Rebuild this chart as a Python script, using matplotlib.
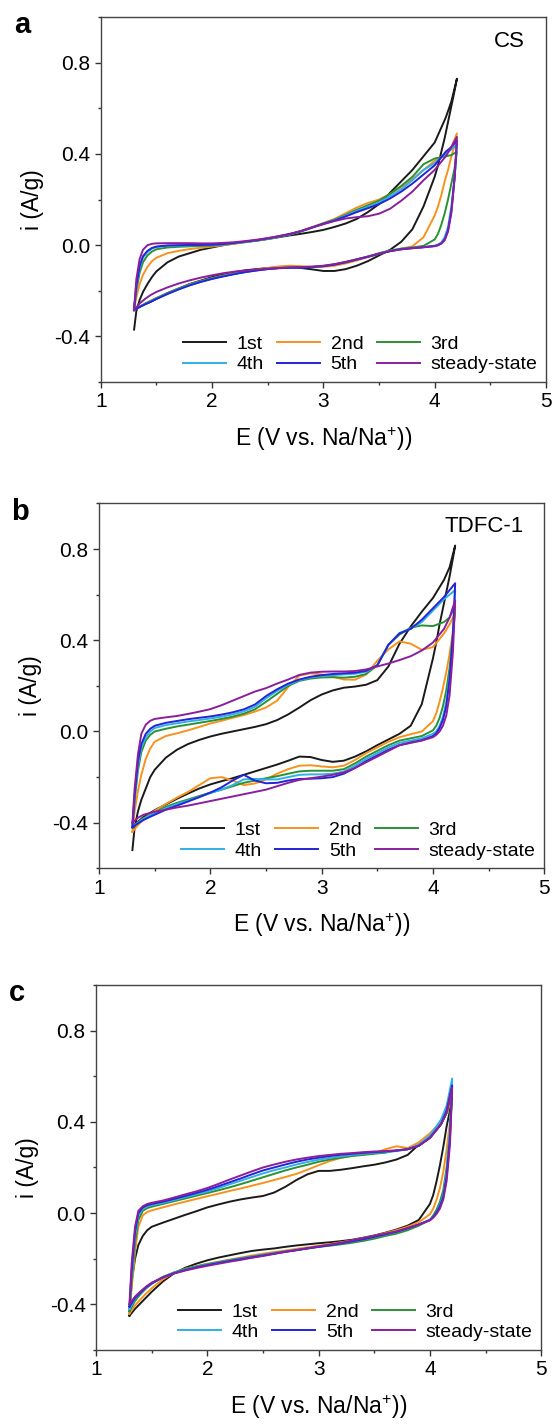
import matplotlib.pyplot as plt
from matplotlib.ticker import MultipleLocator, FormatStrFormatter

plt.rcParams['font.family'] = ['Liberation Sans', 'DejaVu Sans']
plt.rcParams['mathtext.fontset'] = 'custom'
plt.rcParams['mathtext.rm'] = 'Liberation Sans'
plt.rcParams['axes.unicode_minus'] = False

# potential (V) for anodic sweep (up) and cathodic sweep (down)
E_up = [1.30, 1.32, 1.35, 1.38, 1.42, 1.46, 1.50,
        1.6, 1.7, 1.8, 1.9, 2.0,
        2.1, 2.2, 2.3, 2.4, 2.5,
        2.6, 2.7, 2.8, 2.9, 3.0,
        3.1, 3.2, 3.3, 3.4, 3.5,
        3.6, 3.7, 3.8, 3.9, 4.0,
        4.1, 4.15, 4.2]
E_dn = [4.2, 4.18, 4.15, 4.12, 4.09, 4.06, 4.03, 4.0,
        3.9, 3.8, 3.7, 3.6, 3.5,
        3.4, 3.3, 3.2, 3.1, 3.0,
        2.9, 2.8, 2.7, 2.6, 2.5,
        2.4, 2.3, 2.2, 2.1, 2.0,
        1.9, 1.8, 1.7, 1.6, 1.5,
        1.45, 1.4, 1.35, 1.3]

labels = ['1st', '2nd', '3rd', '4th', '5th', 'steady-state']
colors = ['#1a1a1a', '#f7921e', '#2a9134', '#2fb0e8', '#2424d8', '#8a1f9e']

# ---- a: CS ----
a_up_1 = [-0.37, -0.29, -0.24, -0.205, -0.17, -0.14, -0.115,
          -0.075, -0.05, -0.035, -0.02, -0.01,
          0.0, 0.008, 0.015, 0.02, 0.027,
          0.035, 0.043, 0.05, 0.058, 0.067,
          0.08, 0.095, 0.115, 0.145, 0.18,
          0.23, 0.28, 0.33, 0.39, 0.45,
          0.56, 0.63, 0.73]
a_up_2 = [-0.28, -0.23, -0.17, -0.13, -0.095, -0.07, -0.055,
          -0.035, -0.025, -0.017, -0.011, -0.006,
          0.0, 0.006, 0.013, 0.02, 0.028,
          0.037, 0.047, 0.062, 0.08, 0.097,
          0.115, 0.14, 0.165, 0.185, 0.2,
          0.225, 0.255, 0.29, 0.33, 0.37,
          0.40, 0.43, 0.49]
a_up_3 = [-0.28, -0.2, -0.12, -0.075, -0.045, -0.028, -0.018,
          -0.01, -0.007, -0.005, -0.003, -0.002,
          0.003, 0.008, 0.014, 0.02, 0.028,
          0.037, 0.047, 0.06, 0.077, 0.095,
          0.112, 0.133, 0.155, 0.175, 0.195,
          0.225, 0.26, 0.3, 0.355, 0.38,
          0.39, 0.395, 0.41]
a_up_4 = [-0.28, -0.19, -0.1, -0.055, -0.03, -0.015, -0.008,
          -0.003, -0.002, -0.001, 0.0, 0.0,
          0.004, 0.009, 0.015, 0.021, 0.029,
          0.038, 0.048, 0.061, 0.077, 0.094,
          0.11, 0.13, 0.15, 0.168, 0.187,
          0.215, 0.245, 0.285, 0.33, 0.36,
          0.40, 0.42, 0.44]
a_up_5 = [-0.28, -0.18, -0.09, -0.048, -0.025, -0.012, -0.006,
          -0.001, 0.0, 0.001, 0.001, 0.002,
          0.005, 0.01, 0.016, 0.022, 0.03,
          0.039, 0.049, 0.062, 0.078, 0.094,
          0.108, 0.126, 0.145, 0.162, 0.18,
          0.205, 0.235, 0.27, 0.31, 0.35,
          0.41, 0.43, 0.46]
a_up_s = [-0.28, -0.15, -0.06, -0.02, 0.0, 0.006, 0.008,
          0.009, 0.009, 0.009, 0.008, 0.008,
          0.01, 0.013, 0.018, 0.024, 0.031,
          0.04, 0.05, 0.062, 0.078, 0.092,
          0.106, 0.117, 0.123, 0.127, 0.138,
          0.16, 0.195, 0.235, 0.285, 0.33,
          0.39, 0.43, 0.475]

a_dn_1 = [0.73, 0.68, 0.61, 0.54, 0.47, 0.41, 0.35, 0.30,
          0.17, 0.07, 0.015, -0.02, -0.045,
          -0.07, -0.09, -0.105, -0.113, -0.113,
          -0.106, -0.1, -0.097, -0.097, -0.1,
          -0.105, -0.11, -0.118, -0.128, -0.14,
          -0.155, -0.17, -0.19, -0.21, -0.235,
          -0.248, -0.258, -0.27, -0.28]
a_dn_2 = [0.49, 0.44, 0.39, 0.33, 0.28, 0.22, 0.17, 0.13,
          0.035, -0.005, -0.015, -0.025, -0.038,
          -0.052, -0.067, -0.08, -0.09, -0.095,
          -0.095, -0.092, -0.09, -0.093, -0.1,
          -0.108, -0.115, -0.123, -0.133, -0.145,
          -0.158, -0.172, -0.19, -0.21, -0.232,
          -0.244, -0.256, -0.27, -0.285]
a_dn_3 = [0.41, 0.34, 0.27, 0.2, 0.14, 0.09, 0.05, 0.025,
          -0.003, -0.01, -0.015, -0.023, -0.035,
          -0.05, -0.063, -0.075, -0.085, -0.092,
          -0.095, -0.096, -0.097, -0.1, -0.104,
          -0.11, -0.117, -0.125, -0.135, -0.146,
          -0.158, -0.172, -0.19, -0.21, -0.232,
          -0.244, -0.256, -0.27, -0.285]
a_dn_4 = [0.44, 0.3, 0.17, 0.08, 0.035, 0.012, 0.003, -0.002,
          -0.008, -0.012, -0.017, -0.025, -0.037,
          -0.05, -0.062, -0.074, -0.084, -0.091,
          -0.095, -0.097, -0.098, -0.1, -0.104,
          -0.11, -0.117, -0.126, -0.136, -0.147,
          -0.16, -0.175, -0.193, -0.213, -0.235,
          -0.247, -0.258, -0.27, -0.285]
a_dn_5 = [0.46, 0.3, 0.15, 0.065, 0.025, 0.008, 0.0, -0.004,
          -0.009, -0.013, -0.018, -0.026, -0.038,
          -0.051, -0.063, -0.075, -0.085, -0.092,
          -0.096, -0.098, -0.099, -0.101, -0.105,
          -0.111, -0.118, -0.127, -0.137, -0.148,
          -0.161, -0.176, -0.194, -0.214, -0.236,
          -0.248, -0.259, -0.271, -0.285]
a_dn_s = [0.475, 0.3, 0.14, 0.06, 0.022, 0.007, 0.0, -0.004,
          -0.009, -0.013, -0.018, -0.026, -0.037,
          -0.05, -0.062, -0.073, -0.083, -0.09,
          -0.094, -0.096, -0.098, -0.1, -0.103,
          -0.107, -0.111, -0.116, -0.123, -0.132,
          -0.142, -0.154, -0.168, -0.185, -0.205,
          -0.218, -0.235, -0.255, -0.285]

# ---- b: TDFC-1 ----
b_up_1 = [-0.52, -0.42, -0.35, -0.3, -0.25, -0.2, -0.168,
          -0.115, -0.08, -0.055, -0.037, -0.022,
          -0.01, 0.0, 0.01, 0.02, 0.032,
          0.05, 0.075, 0.105, 0.137, 0.162,
          0.18, 0.192, 0.197, 0.205, 0.225,
          0.285, 0.385, 0.46, 0.525, 0.585,
          0.665, 0.72, 0.815]
b_up_2 = [-0.44, -0.35, -0.26, -0.19, -0.12, -0.075, -0.045,
          -0.02, -0.008, 0.005, 0.02, 0.035,
          0.047, 0.06, 0.072, 0.087, 0.105,
          0.135, 0.195, 0.245, 0.255, 0.25,
          0.24, 0.228, 0.227, 0.25, 0.31,
          0.36, 0.395, 0.385, 0.358, 0.37,
          0.43, 0.47, 0.52]
b_up_3 = [-0.42, -0.3, -0.17, -0.09, -0.04, -0.015, 0.0,
          0.012, 0.022, 0.03, 0.038, 0.046,
          0.055, 0.065, 0.078, 0.097, 0.13,
          0.165, 0.2, 0.222, 0.232, 0.237,
          0.238, 0.236, 0.24, 0.252, 0.29,
          0.38, 0.425, 0.455, 0.465, 0.462,
          0.48, 0.5, 0.55]
b_up_4 = [-0.42, -0.29, -0.15, -0.07, -0.025, 0.0, 0.015,
          0.028, 0.036, 0.044, 0.05, 0.057,
          0.065, 0.075, 0.088, 0.108, 0.145,
          0.178, 0.205, 0.225, 0.237, 0.243,
          0.247, 0.25, 0.253, 0.262, 0.29,
          0.38, 0.432, 0.45, 0.48, 0.53,
          0.58, 0.6, 0.62]
b_up_5 = [-0.42, -0.28, -0.13, -0.055, -0.01, 0.012, 0.025,
          0.038, 0.046, 0.054, 0.06, 0.066,
          0.074, 0.084, 0.097, 0.118, 0.155,
          0.185, 0.21, 0.228, 0.24, 0.247,
          0.252, 0.255, 0.258, 0.266, 0.29,
          0.38, 0.43, 0.45, 0.49, 0.54,
          0.59, 0.62, 0.65]
b_up_s = [-0.40, -0.25, -0.1, -0.01, 0.03, 0.047, 0.055,
          0.062, 0.068, 0.077, 0.087, 0.098,
          0.115, 0.135, 0.155, 0.175, 0.19,
          0.21, 0.228, 0.248, 0.258, 0.262,
          0.263, 0.263, 0.265, 0.272, 0.285,
          0.298, 0.313, 0.33, 0.355, 0.39,
          0.45, 0.5, 0.575]

b_dn_1 = [0.815, 0.76, 0.68, 0.61, 0.54, 0.47, 0.39, 0.32,
          0.12, 0.025, -0.01, -0.035, -0.06,
          -0.087, -0.11, -0.128, -0.133, -0.125,
          -0.112, -0.11, -0.128, -0.145, -0.16,
          -0.175, -0.19, -0.205, -0.218, -0.232,
          -0.25, -0.272, -0.295, -0.32, -0.345,
          -0.36, -0.375, -0.395, -0.42]
b_dn_2 = [0.52, 0.44, 0.34, 0.26, 0.19, 0.13, 0.08, 0.045,
          0.0, -0.012, -0.025, -0.045, -0.07,
          -0.095, -0.125, -0.15, -0.157, -0.153,
          -0.148, -0.15, -0.165, -0.185, -0.21,
          -0.228, -0.235, -0.215, -0.2, -0.205,
          -0.235, -0.265, -0.29, -0.318, -0.348,
          -0.365, -0.385, -0.41, -0.44]
b_dn_3 = [0.55, 0.42, 0.28, 0.18, 0.11, 0.06, 0.025, 0.005,
          -0.02, -0.03, -0.04, -0.06, -0.085,
          -0.11, -0.14, -0.165, -0.172, -0.172,
          -0.172, -0.175, -0.185, -0.196, -0.205,
          -0.215, -0.225, -0.24, -0.255, -0.268,
          -0.283, -0.298, -0.313, -0.33, -0.355,
          -0.368, -0.38, -0.398, -0.42]
b_dn_4 = [0.62, 0.42, 0.24, 0.13, 0.065, 0.025, 0.0, -0.01,
          -0.03, -0.04, -0.05, -0.07, -0.095,
          -0.12, -0.15, -0.175, -0.185, -0.188,
          -0.188, -0.19, -0.2, -0.21, -0.21,
          -0.208, -0.21, -0.235, -0.255, -0.27,
          -0.287, -0.303, -0.318, -0.336, -0.358,
          -0.37, -0.383, -0.4, -0.42]
b_dn_5 = [0.65, 0.43, 0.23, 0.11, 0.05, 0.015, -0.008, -0.02,
          -0.038, -0.048, -0.06, -0.08, -0.105,
          -0.13, -0.16, -0.185, -0.2, -0.205,
          -0.207, -0.208, -0.215, -0.225, -0.227,
          -0.215, -0.19, -0.215, -0.245, -0.268,
          -0.288, -0.307, -0.325, -0.343, -0.365,
          -0.376, -0.388, -0.403, -0.42]
b_dn_s = [0.575, 0.35, 0.16, 0.07, 0.025, 0.0, -0.015, -0.025,
          -0.04, -0.05, -0.06, -0.085, -0.11,
          -0.135, -0.16, -0.18, -0.19, -0.198,
          -0.205, -0.212, -0.225, -0.24, -0.255,
          -0.265, -0.275, -0.285, -0.295, -0.305,
          -0.315, -0.325, -0.333, -0.343, -0.352,
          -0.358, -0.365, -0.378, -0.40]

# ---- c ----
c_up_1 = [-0.45, -0.3, -0.2, -0.14, -0.1, -0.075, -0.06,
          -0.042, -0.025, -0.008, 0.008, 0.025,
          0.038, 0.05, 0.06, 0.068, 0.075,
          0.09, 0.115, 0.145, 0.17, 0.185,
          0.185, 0.19, 0.197, 0.205, 0.212,
          0.222, 0.235, 0.255, 0.3, 0.33,
          0.39, 0.44, 0.5]
c_up_2 = [-0.44, -0.33, -0.17, -0.06, -0.01, 0.005, 0.012,
          0.025, 0.038, 0.05, 0.062, 0.074,
          0.085, 0.097, 0.108, 0.12, 0.132,
          0.145, 0.158, 0.172, 0.19, 0.21,
          0.228, 0.242, 0.252, 0.258, 0.262,
          0.28, 0.293, 0.285, 0.31, 0.35,
          0.4, 0.44, 0.5]
c_up_3 = [-0.43, -0.3, -0.13, -0.03, 0.01, 0.022, 0.028,
          0.04, 0.052, 0.064, 0.076, 0.088,
          0.1, 0.113, 0.127, 0.142, 0.157,
          0.172, 0.187, 0.2, 0.212, 0.225,
          0.235, 0.243, 0.25, 0.255, 0.26,
          0.265, 0.275, 0.28, 0.295, 0.33,
          0.39, 0.44, 0.53]
c_up_4 = [-0.42, -0.27, -0.1, -0.01, 0.02, 0.03, 0.035,
          0.045, 0.057, 0.07, 0.082, 0.095,
          0.11, 0.126, 0.142, 0.158, 0.174,
          0.188, 0.2, 0.213, 0.224, 0.234,
          0.242, 0.249, 0.255, 0.26, 0.264,
          0.267, 0.272, 0.28, 0.3, 0.34,
          0.41, 0.47, 0.59]
c_up_5 = [-0.41, -0.25, -0.08, 0.0, 0.025, 0.035, 0.04,
          0.05, 0.062, 0.075, 0.088, 0.102,
          0.118, 0.135, 0.152, 0.17, 0.187,
          0.2, 0.213, 0.225, 0.235, 0.243,
          0.25, 0.256, 0.26, 0.264, 0.267,
          0.27, 0.274, 0.28, 0.295, 0.33,
          0.39, 0.45, 0.56]
c_up_s = [-0.40, -0.22, -0.06, 0.01, 0.03, 0.04, 0.045,
          0.055, 0.068, 0.082, 0.095, 0.11,
          0.128, 0.147, 0.165, 0.183, 0.2,
          0.213, 0.225, 0.235, 0.243, 0.25,
          0.255, 0.26, 0.263, 0.267, 0.27,
          0.272, 0.275, 0.28, 0.295, 0.33,
          0.39, 0.44, 0.55]

c_dn_1 = [0.5, 0.45, 0.38, 0.29, 0.21, 0.14, 0.08, 0.04,
          -0.03, -0.055, -0.072, -0.086, -0.098,
          -0.108, -0.117, -0.123, -0.128, -0.132,
          -0.137, -0.142, -0.148, -0.155, -0.16,
          -0.166, -0.175, -0.185, -0.195, -0.207,
          -0.222, -0.24, -0.264, -0.3, -0.345,
          -0.37, -0.395, -0.42, -0.45]
c_dn_2 = [0.5, 0.4, 0.28, 0.18, 0.11, 0.06, 0.02, -0.005,
          -0.04, -0.06, -0.075, -0.088, -0.1,
          -0.11, -0.12, -0.128, -0.136, -0.143,
          -0.15, -0.157, -0.164, -0.171, -0.178,
          -0.186, -0.195, -0.204, -0.213, -0.222,
          -0.232, -0.244, -0.262, -0.29, -0.33,
          -0.352, -0.378, -0.405, -0.44]
c_dn_3 = [0.53, 0.35, 0.2, 0.1, 0.05, 0.015, -0.01, -0.03,
          -0.055, -0.075, -0.09, -0.1, -0.112,
          -0.122, -0.13, -0.137, -0.143, -0.148,
          -0.155, -0.162, -0.168, -0.175, -0.183,
          -0.19, -0.198, -0.206, -0.215, -0.224,
          -0.234, -0.245, -0.26, -0.28, -0.31,
          -0.33, -0.355, -0.385, -0.43]
c_dn_4 = [0.59, 0.36, 0.18, 0.08, 0.035, 0.005, -0.015, -0.03,
          -0.05, -0.068, -0.083, -0.094, -0.105,
          -0.116, -0.125, -0.133, -0.14, -0.147,
          -0.154, -0.161, -0.168, -0.176, -0.184,
          -0.192, -0.2, -0.208, -0.217, -0.226,
          -0.236, -0.248, -0.262, -0.28, -0.308,
          -0.326, -0.35, -0.375, -0.42]
c_dn_5 = [0.56, 0.33, 0.16, 0.07, 0.03, 0.003, -0.017, -0.03,
          -0.05, -0.067, -0.082, -0.093, -0.104,
          -0.115, -0.124, -0.133, -0.141, -0.148,
          -0.155, -0.163, -0.17, -0.178, -0.186,
          -0.194, -0.202, -0.21, -0.219, -0.228,
          -0.238, -0.25, -0.264, -0.282, -0.308,
          -0.325, -0.348, -0.372, -0.41]
c_dn_s = [0.55, 0.3, 0.14, 0.06, 0.02, -0.003, -0.02, -0.032,
          -0.05, -0.065, -0.08, -0.09, -0.1,
          -0.11, -0.12, -0.13, -0.138, -0.146,
          -0.154, -0.162, -0.17, -0.179, -0.188,
          -0.196, -0.205, -0.213, -0.222, -0.231,
          -0.241, -0.252, -0.265, -0.282, -0.305,
          -0.322, -0.343, -0.366, -0.40]

panels = [
    ('a', 'CS', (0.917, 0.933),
     [a_up_1, a_up_2, a_up_3, a_up_4, a_up_5, a_up_s],
     [a_dn_1, a_dn_2, a_dn_3, a_dn_4, a_dn_5, a_dn_s],
     [0.1811, 0.7317, 0.8009, 0.2563]),
    ('b', 'TDFC-1', (0.865, 0.936),
     [b_up_1, b_up_2, b_up_3, b_up_4, b_up_5, b_up_s],
     [b_dn_1, b_dn_2, b_dn_3, b_dn_4, b_dn_5, b_dn_s],
     [0.1781, 0.3902, 0.8007, 0.2563]),
    ('c', '', (0.9, 0.93),
     [c_up_1, c_up_2, c_up_3, c_up_4, c_up_5, c_up_s],
     [c_dn_1, c_dn_2, c_dn_3, c_dn_4, c_dn_5, c_dn_s],
     [0.1728, 0.0520, 0.8006, 0.2563]),
]

fig = plt.figure(figsize=(5.56, 14.24), dpi=100)

for letter, name, name_xy, ups, dns, rect in panels:
    ax = fig.add_axes(rect)
    lines = []
    for up, dn, c, lab in zip(ups, dns, colors, labels):
        ln, = ax.plot(E_up + E_dn, up + dn, color=c, lw=1.4, label=lab)
        lines.append(ln)

    ax.set_xlim(1, 5)
    ax.set_ylim(-0.6, 1.0)
    ax.xaxis.set_major_locator(MultipleLocator(1))
    ax.xaxis.set_minor_locator(MultipleLocator(0.5))
    ax.yaxis.set_major_locator(MultipleLocator(0.4))
    ax.yaxis.set_minor_locator(MultipleLocator(0.2))
    ax.yaxis.set_major_formatter(FormatStrFormatter('%.1f'))
    ax.tick_params(which='major', direction='out', length=4.5, width=1,
                   labelsize=15, color='#333333', pad=3)
    ax.tick_params(which='minor', direction='out', length=2.5, width=1,
                   color='#333333')
    for sp in ax.spines.values():
        sp.set_color('#444444')
        sp.set_linewidth(1.0)

    ax.set_xlabel('E (V vs. Na/Na$^{+}$))', fontsize=16.5)
    ax.set_ylabel('i (A/g)', fontsize=16.5)
    ax.xaxis.set_label_coords(0.5, -0.118)
    ax.yaxis.set_label_coords(-0.128, 0.5)

    order = [0, 3, 1, 4, 2, 5]
    ax.legend([lines[k] for k in order], [labels[k] for k in order],
              ncol=3, loc='lower right', frameon=False, fontsize=14,
              handlelength=2.2, handletextpad=0.55, columnspacing=0.7,
              labelspacing=0.15, borderpad=0.3, borderaxespad=0.15)

    if name:
        ax.text(name_xy[0], name_xy[1], name, transform=ax.transAxes,
                ha='center', va='center', fontsize=16)
    ax.text(-0.177, 0.977, letter, transform=ax.transAxes, ha='center',
            va='center', fontsize=21, fontweight='bold')

fig.savefig('out.png', dpi=100)
